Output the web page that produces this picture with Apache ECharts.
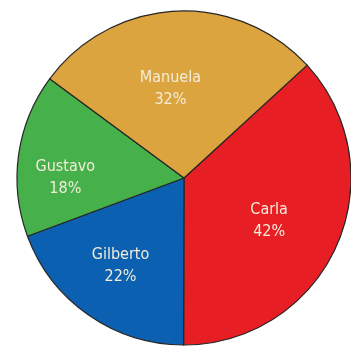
<!DOCTYPE html>
<html>
<head>
<meta charset="utf-8">
<script src="https://cdn.jsdelivr.net/npm/echarts@6/dist/echarts.min.js"></script>
<style>
  html, body { margin: 0; padding: 0; background: #fff; }
  #chart { width: 351px; height: 346px; }
</style>
</head>
<body>
<div id="chart"></div>
<script>
// Shares per person, clockwise from the Carla slice
const names = ['Carla', 'Gilberto', 'Gustavo', 'Manuela'];
const shares = [42, 22, 18, 32];
const colors = ['#e81e25', '#0c60b2', '#46b04a', '#dca43f'];

// Nudges that push each label out from the default inside position
const labelNudge = [[6, 8], [-14, 17], [-33, 12], [-9, -3]];

const chart = echarts.init(document.getElementById('chart'), null, { renderer: 'canvas' });

chart.setOption({
  animation: false,
  backgroundColor: '#ffffff',
  series: [{
    type: 'pie',
    center: [184, 178],
    radius: [0, 167],
    startAngle: 42.5,
    clockwise: true,
    avoidLabelOverlap: false,
    itemStyle: { borderColor: '#262626', borderWidth: 1.2 },
    label: {
      show: true,
      position: 'inside',
      formatter: p => p.name + '\n' + p.value + '%',
      color: '#f2ecd8',
      fontFamily: '"DejaVu Sans Condensed", "Liberation Sans Narrow", sans-serif',
      fontSize: 16,
      lineHeight: 22,
      align: 'center'
    },
    labelLine: { show: false },
    emphasis: { disabled: true },
    data: names.map((n, i) => ({
      name: n,
      value: shares[i],
      itemStyle: { color: colors[i] },
      label: { offset: labelNudge[i] }
    }))
  }]
});
</script>
</body>
</html>
